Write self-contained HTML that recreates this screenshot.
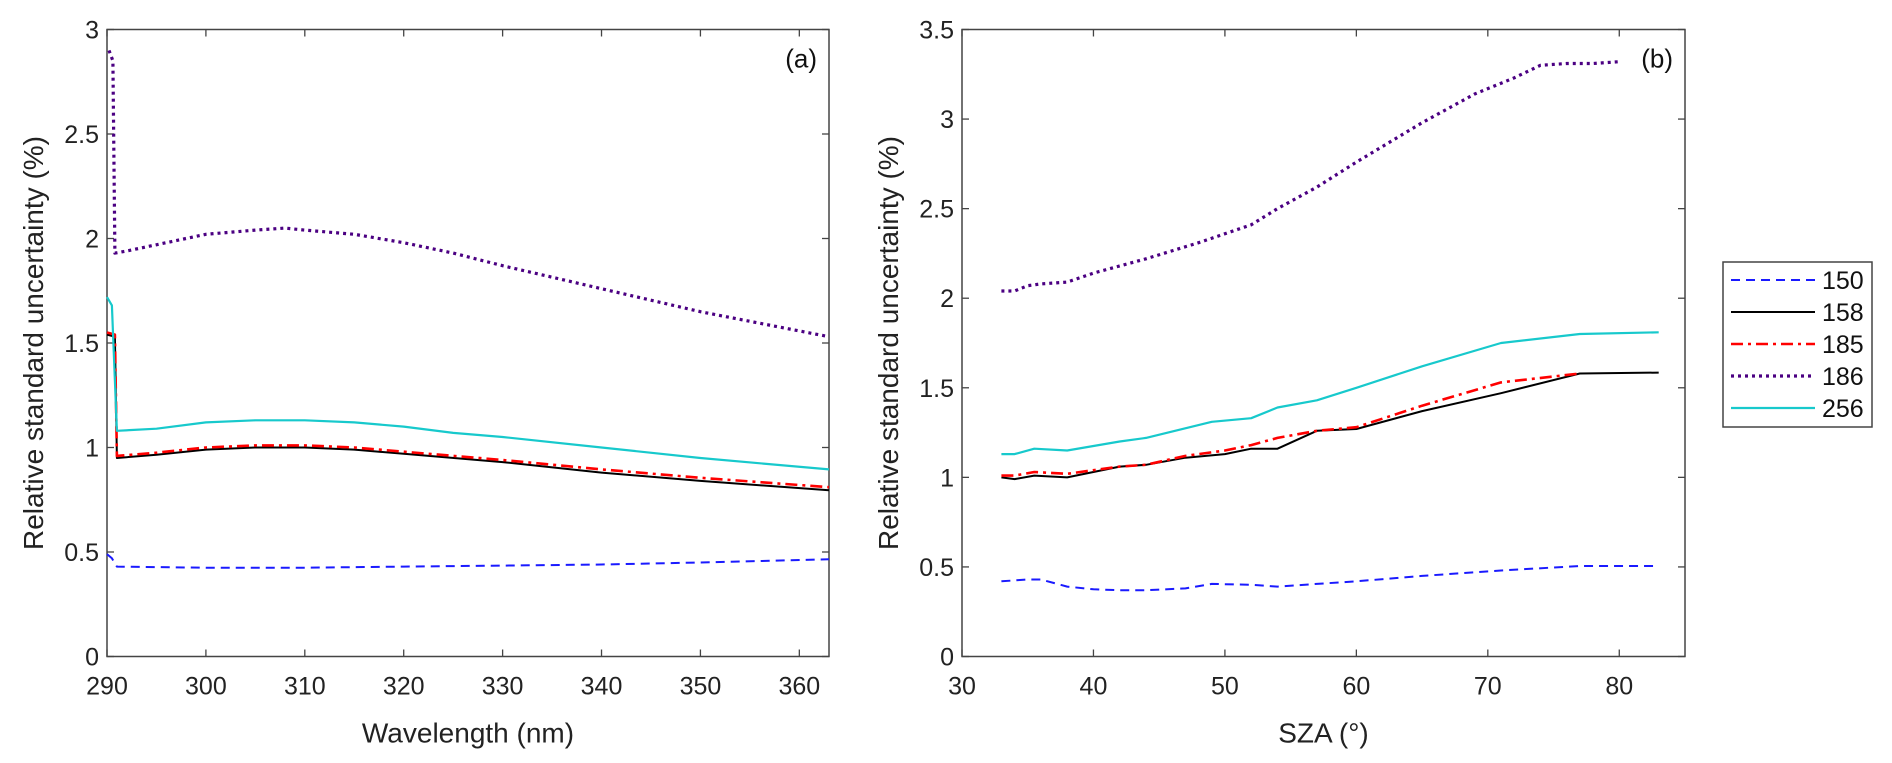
<!DOCTYPE html>
<html><head><meta charset="utf-8"><style>
body{margin:0;background:#fff;}
svg{display:block;font-family:"Liberation Sans",Arial,sans-serif;}
</style></head><body>
<svg id="c" width="1892" height="763" viewBox="0 0 1892 763"></svg>
<script>
const aX = {
 s150:[290,290.5,291,300,310,320,330,340,350,363],
 s158:[290,290.8,291,295,300,305,310,315,320,330,340,350,363],
 s185:[290,290.8,291,295,300,305,310,315,320,330,340,350,363],
 s186:[290.2,290.6,290.8,292,300,305,308,310,315,320,325,330,340,350,363],
 s256:[290,290.5,291,295,300,305,310,315,320,325,330,340,350,363]};
const aY = {
 s150:[0.49,0.47,0.43,0.425,0.425,0.43,0.435,0.44,0.45,0.465],
 s158:[1.54,1.53,0.95,0.965,0.99,1.0,1.0,0.99,0.97,0.93,0.88,0.84,0.795],
 s185:[1.55,1.54,0.96,0.975,1.0,1.01,1.01,1.0,0.98,0.94,0.895,0.855,0.81],
 s186:[2.9,2.85,1.93,1.94,2.02,2.04,2.05,2.04,2.02,1.98,1.93,1.87,1.76,1.65,1.53],
 s256:[1.72,1.68,1.08,1.09,1.12,1.13,1.13,1.12,1.10,1.07,1.05,1.0,0.95,0.895]};
const bX = {
 s150:[33,35,36,38,40,42,44,47,49,52,54,57,60,65,71,77,83],
 s158:[33,34,35.5,38,42,44,47,50,52,54,57,60,65,71,77,83],
 s185:[33,34,35.5,38,42,44,47,50,52,54,57,60,65,71,77],
 s186:[33,34,35,36,38,40,44,48,52,54,57,60,65,69,72,74,76,78,80],
 s256:[33,34,35.5,38,42,44,49,52,54,57,60,65,71,77,83]};
const bY = {
 s150:[0.42,0.43,0.43,0.39,0.375,0.37,0.37,0.38,0.405,0.40,0.39,0.405,0.42,0.45,0.48,0.505,0.505],
 s158:[1.0,0.99,1.01,1.0,1.06,1.07,1.11,1.13,1.16,1.16,1.26,1.27,1.37,1.47,1.58,1.585],
 s185:[1.01,1.01,1.03,1.02,1.06,1.07,1.12,1.15,1.18,1.22,1.26,1.28,1.40,1.53,1.58],
 s186:[2.04,2.04,2.07,2.08,2.09,2.14,2.22,2.31,2.41,2.50,2.62,2.76,2.98,3.14,3.23,3.30,3.31,3.31,3.32],
 s256:[1.13,1.13,1.16,1.15,1.20,1.22,1.31,1.33,1.39,1.43,1.50,1.62,1.75,1.80,1.81]};
const seriesNames=["150","158","185","186","256"];
const aXTicks=[290,300,310,320,330,340,350,360];
const aYTicks=[0,0.5,1,1.5,2,2.5,3];
const bXTicks=[30,40,50,60,70,80];
const bYTicks=[0,0.5,1,1.5,2,2.5,3,3.5];

const NS="http://www.w3.org/2000/svg";
const svg=document.getElementById('c');
function el(t,a,p){const e=document.createElementNS(NS,t);for(const k in a)e.setAttribute(k,a[k]);(p||svg).appendChild(e);return e;}
const styles={
 s150:{stroke:"#1a1aff",dash:"9,6",w:2},
 s158:{stroke:"#000",dash:"",w:2},
 s185:{stroke:"#ff0000",dash:"12,5,3,5",w:2.6},
 s186:{stroke:"#4b0082",dash:"3,4",w:3.2},
 s256:{stroke:"#17c9cc",dash:"",w:2.2}};

function panel(cfg){
 const {L,R,T,B,x0,x1,y0,y1,xt,yt,xs,ys,tag,xlabel,name,ylx}=cfg;
 const g=el('g',{});
 
 
 const sx=v=>L+(v-x0)/(x1-x0)*(R-L), sy=v=>B-(v-y0)/(y1-y0)*(B-T);
 const frame=el('rect',{x:L,y:T,width:R-L,height:B-T,fill:'none',stroke:'#444','stroke-width':1.5},g);
 
 xt.forEach(v=>{const x=sx(v);
  el('line',{x1:x,x2:x,y1:B,y2:B-7,stroke:'#444','stroke-width':1.3},g);
  el('line',{x1:x,x2:x,y1:T,y2:T+7,stroke:'#444','stroke-width':1.3},g);
  const t=el('text',{x:x,y:B+38,'text-anchor':'middle','font-size':25,fill:'#222'},g);t.textContent=v;
  });
 yt.forEach(v=>{const y=sy(v);
  el('line',{x1:L,x2:L+7,y1:y,y2:y,stroke:'#444','stroke-width':1.3},g);
  el('line',{x1:R,x2:R-7,y1:y,y2:y,stroke:'#444','stroke-width':1.3},g);
  const t=el('text',{x:L-8,y:y+9,'text-anchor':'end','font-size':25,fill:'#222'},g);t.textContent=v;
  });
 ["s150","s158","s185","s186","s256"].forEach((k,i)=>{
  const st=styles[k];
  const d=xs[k].map((v,j)=>(j?'L':'M')+sx(v).toFixed(1)+','+sy(ys[k][j]).toFixed(1)).join(' ');
  const p=el('path',{d:d,fill:'none',stroke:st.stroke,'stroke-width':st.w,'stroke-dasharray':st.dash,'stroke-linejoin':'round'},g);
  });
 const tg=el('text',{x:R-12,y:T+38,'text-anchor':'end','font-size':26,fill:'#111'},g);tg.textContent=tag;
 
 const xl=el('text',{x:(L+R)/2,y:B+86,'text-anchor':'middle','font-size':28,fill:'#222'},g);xl.textContent=xlabel;
 
 const yl=el('text',{x:0,y:0,'text-anchor':'middle','font-size':28,fill:'#222',transform:`translate(${ylx},${(T+B)/2}) rotate(-90)`},g);
 yl.textContent="Relative standard uncertainty (%)";
 
}
panel({L:107,R:829,T:29.5,B:656.5,x0:290,x1:363,y0:0,y1:3,xt:aXTicks,yt:aYTicks,xs:aX,ys:aY,tag:"(a)",xlabel:"Wavelength (nm)",name:"panel-a",ylx:43});
panel({L:962,R:1685,T:29.5,B:656.5,x0:30,x1:85,y0:0,y1:3.5,xt:bXTicks,yt:bYTicks,xs:bX,ys:bY,tag:"(b)",xlabel:"SZA (°)",name:"panel-b",ylx:898});

// legend
const lg=el('g',{});


el('rect',{x:1723,y:262,width:149,height:165,fill:'#fff',stroke:'#444','stroke-width':1.5},lg);
["s150","s158","s185","s186","s256"].forEach((k,i)=>{
 const y=280+i*32,st=styles[k];
 const ln=el('line',{x1:1731,x2:1815,y1:y,y2:y,stroke:st.stroke,'stroke-width':st.w,'stroke-dasharray':st.dash},lg);
 
 const t=el('text',{x:1822,y:y+9,'font-size':25,fill:'#111'},lg);t.textContent=seriesNames[i];
 
});
</script>
</body></html>
